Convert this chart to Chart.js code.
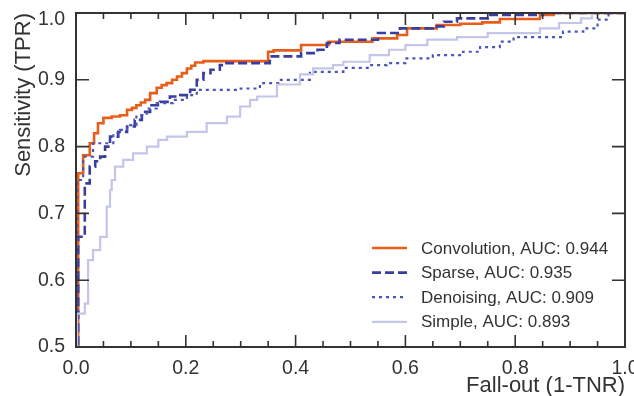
<!DOCTYPE html>
<html>
<head>
<meta charset="utf-8">
<script src="https://cdn.jsdelivr.net/npm/chart.js@4/dist/chart.umd.min.js"></script>
<style>
  html, body { margin: 0; padding: 0; background: #ffffff; }
  #wrap { width: 634px; height: 396px; }
</style>
</head>
<body>
<div id="wrap"><canvas id="c" width="634" height="396"></canvas></div>
<script>
// ---- data (FPR = fall-out, TPR = sensitivity) ----
const seriesLabels = ['Convolution, AUC: 0.944', 'Sparse, AUC: 0.935', 'Denoising, AUC: 0.909', 'Simple, AUC: 0.893'];

const convFpr = [0, 0.004, 0.013, 0.025, 0.033, 0.04, 0.05, 0.065, 0.08, 0.093, 0.102, 0.11, 0.118, 0.126, 0.135, 0.147, 0.156, 0.165, 0.175, 0.184, 0.193, 0.202, 0.21, 0.217, 0.232, 0.35, 0.36, 0.41, 0.46, 0.54, 0.585, 0.603, 0.657, 0.70, 0.74, 0.772, 0.845, 0.87, 1.0];
const convTpr = [0, 0.76, 0.787, 0.805, 0.82, 0.835, 0.843, 0.845, 0.847, 0.855, 0.858, 0.862, 0.866, 0.87, 0.88, 0.888, 0.892, 0.895, 0.9, 0.905, 0.91, 0.917, 0.921, 0.926, 0.928, 0.942, 0.944, 0.952, 0.957, 0.962, 0.967, 0.977, 0.982, 0.984, 0.986, 0.991, 0.997, 1.0, 1.0];

const sparseFpr = [0, 0.004, 0.016, 0.025, 0.035, 0.044, 0.053, 0.062, 0.077, 0.093, 0.107, 0.12, 0.135, 0.153, 0.171, 0.19, 0.208, 0.22, 0.232, 0.245, 0.262, 0.27, 0.353, 0.41, 0.44, 0.457, 0.48, 0.55, 0.59, 0.65, 0.67, 0.694, 0.75, 0.85, 1.0];
const sparseTpr = [0, 0.665, 0.745, 0.77, 0.778, 0.785, 0.8, 0.815, 0.822, 0.83, 0.84, 0.852, 0.862, 0.867, 0.875, 0.877, 0.885, 0.9, 0.91, 0.915, 0.922, 0.925, 0.935, 0.94, 0.945, 0.955, 0.96, 0.97, 0.977, 0.98, 0.987, 0.992, 0.997, 1.0, 1.0];

const denoFpr = [0, 0.002, 0.013, 0.031, 0.068, 0.08, 0.093, 0.11, 0.129, 0.147, 0.177, 0.202, 0.22, 0.3, 0.335, 0.37, 0.426, 0.487, 0.535, 0.566, 0.6, 0.65, 0.705, 0.736, 0.772, 0.797, 0.887, 0.924, 0.95, 0.97, 1.0];
const denoTpr = [0, 0.75, 0.785, 0.805, 0.82, 0.825, 0.832, 0.847, 0.857, 0.865, 0.87, 0.877, 0.885, 0.887, 0.895, 0.9, 0.912, 0.918, 0.922, 0.925, 0.932, 0.937, 0.942, 0.949, 0.957, 0.964, 0.972, 0.977, 0.99, 1.0, 1.0];

const simpFpr = [0, 0.002, 0.016, 0.022, 0.031, 0.044, 0.056, 0.062, 0.065, 0.071, 0.086, 0.104, 0.129, 0.15, 0.166, 0.202, 0.238, 0.275, 0.299, 0.317, 0.33, 0.366, 0.408, 0.432, 0.468, 0.487, 0.535, 0.57, 0.6, 0.64, 0.694, 0.75, 0.845, 0.88, 0.92, 0.94, 1.0];
const simpTpr = [0, 0.55, 0.565, 0.63, 0.645, 0.665, 0.71, 0.735, 0.75, 0.77, 0.78, 0.79, 0.8, 0.81, 0.815, 0.822, 0.835, 0.845, 0.86, 0.87, 0.875, 0.893, 0.908, 0.917, 0.922, 0.927, 0.937, 0.945, 0.952, 0.96, 0.964, 0.97, 0.977, 0.985, 0.992, 1.0, 1.0];

const xTicks = [0.0, 0.2, 0.4, 0.6, 0.8, 1.0];
const xMinorTicks = [0.05, 0.1, 0.15, 0.25, 0.3, 0.35, 0.45, 0.5, 0.55, 0.65, 0.7, 0.75, 0.85, 0.9, 0.95];
const yTicks = [0.5, 0.6, 0.7, 0.8, 0.9, 1.0];

const pts = (xs, ys) => xs.map((x, i) => ({ x: x, y: ys[i] }));

const AXIS = '#333333';
const FONT = "'Liberation Sans', Arial, sans-serif";
const TICK_SIZE = 19.5;

const framePlugin = {
  id: 'frame',
  afterDatasetsDraw(chart) {
    const { ctx, chartArea: a, scales } = chart;
    const xs = scales.x, ys = scales.y;
    ctx.save();
    ctx.strokeStyle = AXIS;
    ctx.lineWidth = 1.6;
    ctx.beginPath();
    const tick = (x1, y1, x2, y2) => { ctx.moveTo(x1, y1); ctx.lineTo(x2, y2); };
    xTicks.forEach(v => {
      const p = xs.getPixelForValue(v);
      tick(p, a.bottom, p, a.bottom - 12);
      tick(p, a.top, p, a.top + 12);
    });
    xMinorTicks.forEach(v => {
      const p = xs.getPixelForValue(v);
      tick(p, a.bottom, p, a.bottom - 6);
      tick(p, a.top, p, a.top + 6);
    });
    yTicks.forEach(v => {
      const p = ys.getPixelForValue(v);
      tick(a.left, p, a.left + 13, p);
      tick(a.right, p, a.right - 13, p);
    });
    ctx.stroke();
    ctx.lineWidth = 2;
    ctx.strokeRect(a.left, a.top, a.right - a.left, a.bottom - a.top);
    ctx.restore();
  },
  afterDraw(chart) {
    // legend inside the plot, lower right
    const { ctx } = chart;
    const x0 = 372, len = 35, tx = 421, y0 = 248, dy = 24.6;
    ctx.save();
    ctx.font = "17px " + FONT;
    ctx.textBaseline = 'middle';
    ctx.textAlign = 'left';
    chart.data.datasets.forEach((ds, i) => {
      const y = y0 + i * dy;
      ctx.strokeStyle = ds.borderColor;
      ctx.lineWidth = ds.borderWidth;
      ctx.setLineDash(ds.borderDash || []);
      ctx.beginPath();
      ctx.moveTo(x0, y);
      ctx.lineTo(x0 + len, y);
      ctx.stroke();
      ctx.setLineDash([]);
      ctx.fillStyle = '#333333';
      ctx.fillText(ds.label, tx, y + 1);
    });
    ctx.restore();
  }
};

new Chart(document.getElementById('c'), {
  type: 'line',
  data: {
    datasets: [
      { label: seriesLabels[0], data: pts(convFpr, convTpr), borderColor: '#e85d1a', borderWidth: 2.6, order: 3 },
      { label: seriesLabels[1], data: pts(sparseFpr, sparseTpr), borderColor: '#393f9f', borderWidth: 2.6, borderDash: [9, 4], order: 2 },
      { label: seriesLabels[2], data: pts(denoFpr, denoTpr), borderColor: '#4a55b8', borderWidth: 2.2, borderDash: [3, 4], order: 1 },
      { label: seriesLabels[3], data: pts(simpFpr, simpTpr), borderColor: '#c3c6e8', borderWidth: 2.2, order: 0 }
    ].map(d => Object.assign({ stepped: 'before', pointRadius: 0, fill: false, tension: 0 }, d))
  },
  options: {
    responsive: false,
    devicePixelRatio: 1,
    animation: false,
    layout: { padding: { left: 0, right: 9, top: 13, bottom: 0 } },
    plugins: { legend: { display: false }, tooltip: { enabled: false } },
    scales: {
      x: {
        type: 'linear', min: 0, max: 1,
        afterBuildTicks: s => { s.ticks = xTicks.map(v => ({ value: v })); },
        ticks: { callback: v => v.toFixed(1), color: AXIS, font: { family: FONT, size: TICK_SIZE }, padding: 2, maxRotation: 0, autoSkip: false },
        grid: { display: false },
        border: { display: false },
        title: { display: true, text: 'Fall-out (1-TNR)', align: 'end', color: AXIS, font: { family: FONT, size: 22, lineHeight: 1.0 }, padding: { top: 0, bottom: -1 } },
        afterFit: s => { s.height = 49; s.paddingLeft = 0; s.paddingRight = 0; }
      },
      y: {
        type: 'linear', min: 0.5, max: 1,
        afterBuildTicks: s => { s.ticks = yTicks.map(v => ({ value: v })); },
        ticks: {
          callback: v => (v === 1 ? ['', v.toFixed(1)] : v.toFixed(1)),
          color: AXIS,
          font: c => ({ family: FONT, size: TICK_SIZE, lineHeight: (c.tick && c.tick.value === 1) ? 14 / TICK_SIZE : 1.2 }),
          padding: 3
        },
        grid: { display: false },
        border: { display: false },
        title: { display: true, text: 'Sensitivity (TPR)', align: 'end', color: AXIS, font: { family: FONT, size: 22, lineHeight: 1.2 }, padding: { top: 11, bottom: 0 } },
        afterFit: s => { s.width = 76; s.paddingTop = 0; s.paddingBottom = 0; }
      }
    }
  },
  plugins: [framePlugin]
});
</script>
</body>
</html>
